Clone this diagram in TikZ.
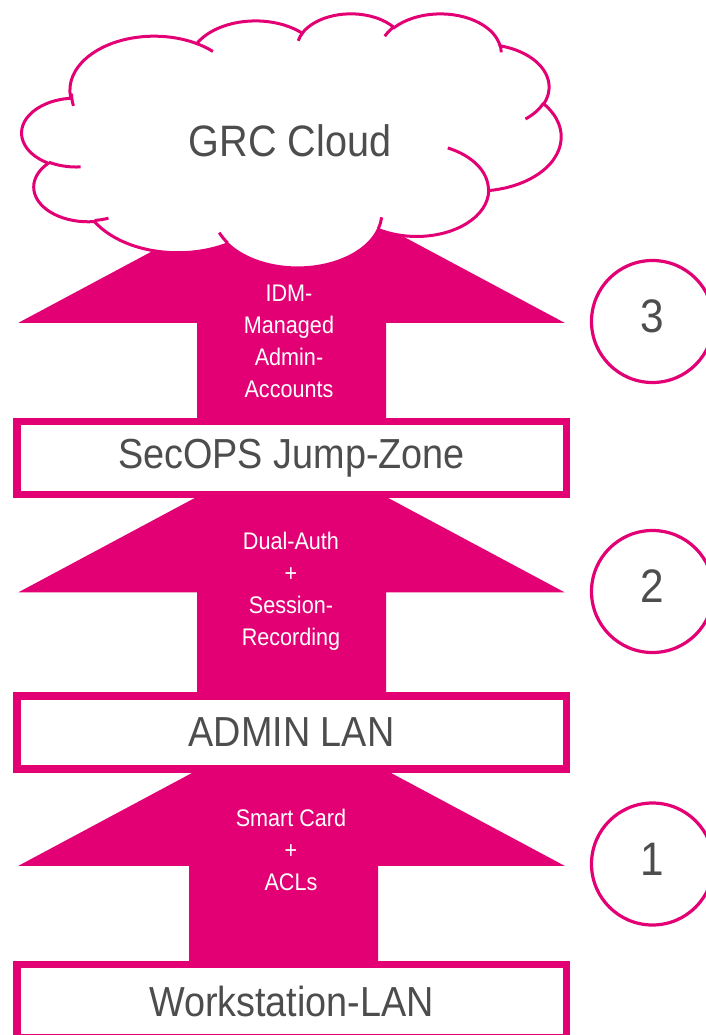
\documentclass[tikz,border=0pt]{standalone}
\usepackage{fontspec}
\setmainfont{Liberation Sans}[FakeStretch=0.9]
\usetikzlibrary{positioning, calc, backgrounds}
\definecolor{tkMagenta}{HTML}{E20074}
\definecolor{tkGrey}{HTML}{4D4D4D}

% one bulge of the cloud outline: x radius, y radius, start and sweep (visual angles)
\newcommand\cloudarc[4]{arc[x radius=#1, y radius=#2,
  start angle={atan2(#1*sin(#3),#2*cos(#3))},
  delta angle={mod(atan2(#1*sin(#3+#4),#2*cos(#3+#4))-atan2(#1*sin(#3),#2*cos(#3))+720,360)}]}

% block arrow rising out of a zone box: box, wing height, shaft shift
\newcommand\zonearrow[3]{%
  \fill[tkMagenta] ($(#1.center)+(#3-94.5,0)$) -- ($(#1.north)+(#3-94.5,-#2)$)
    -- ($(#1.north)+(-273,-#2)$) -- ($(#1.north)+(0,-#2-146)$)
    -- ($(#1.north)+(273,-#2)$) -- ($(#1.north)+(#3+94.5,-#2)$)
    -- ($(#1.center)+(#3+94.5,0)$) -- cycle;}

\begin{document}
\begin{tikzpicture}[x=0.5pt, y=-0.5pt,
  zone/.style={draw=tkMagenta, line width=3.75pt, fill=white, minimum width=274.75pt,
               minimum height=36.5pt, inner sep=0pt, text=tkGrey,
               font=\fontsize{21}{24}\selectfont},
  via/.style={align=center, text=white, inner sep=0pt, font=\fontsize{12}{16}\selectfont},
  stage/.style={circle, draw=tkMagenta, line width=1.6pt, fill=white, minimum size=61pt,
                inner sep=0pt, text depth=5pt, text=tkGrey, font=\fontsize{23.5}{26}\selectfont},
  puff/.style={draw=tkMagenta, line width=1.5pt}
]
\useasboundingbox (0,0) rectangle (706,1035);

\node[zone] (jump) at (291.5,458) {SecOPS Jump-Zone};
\node[zone, below=97pt of jump] (admin) {ADMIN LAN};
\node[zone, below=94pt of admin] (ws) {Workstation-LAN};

\begin{scope}[on background layer]
  \zonearrow{ws}{95}{-8}
  \zonearrow{admin}{100}{0}
  \zonearrow{jump}{95}{0}
\end{scope}

\node[via] (via1) at (291,850) {Smart Card\\+\\ACLs};
\node[via] (via2) at (291,591) {Dual-Auth\\+\\Session-\\Recording};
\node[via] (via3) at (289,341) {IDM-\\Managed\\Admin-\\Accounts};

\node[stage] (s3) at (652.5,321.5) {3};
\node[stage] (s2) at (652.5,591.5) {2};
\node[stage] (s1) at (652.5,864) {1};

% cloud
\begin{scope}[shift={(22,13)}, x=0.62384pt, y=-0.29398pt]
  \filldraw[puff, fill=white] (39.00,143.70)
    \cloudarc{67.53}{91.90}{-190.4875}{123.7805}
    \cloudarc{53.33}{72.67}{-144.1024}{89.9452}
    \cloudarc{43.65}{59.45}{-145.8079}{99.7230}
    \cloudarc{48.57}{65.95}{-130.9861}{117.2417}
    \cloudarc{53.33}{72.73}{-78.7089}{109.0269}
    \cloudarc{67.75}{92.20}{-46.2673}{130.2690}
    \cloudarc{57.85}{78.67}{0.6250}{114.0333}
    \cloudarc{67.52}{92.15}{22.4516}{115.1726}
    \cloudarc{77.20}{105.43}{66.2426}{75.7110}
    \cloudarc{43.60}{59.18}{-274.9421}{146.7356}
    \cloudarc{43.45}{59.45}{-246.8285}{152.5189} -- cycle;
  \draw[puff] (46.93,261.77) \cloudarc{43.45}{59.45}{86.7420}{26.4295}
    (69.28,348.99) \cloudarc{43.60}{59.18}{73.6105}{11.4475}
    (164.78,390.90) \cloudarc{67.52}{92.15}{137.6242}{14.0811}
    (288.27,347.51) \cloudarc{67.52}{92.15}{6.4533}{15.9984}
    (341.29,229.54) \cloudarc{57.85}{78.67}{-70.2924}{70.9174}
    (417.98,153.54) \cloudarc{53.33}{72.73}{30.3180}{27.7515}
    (383.24,54.26) \cloudarc{48.57}{65.95}{-13.7443}{14.8589}
    (290.78,39.52) \cloudarc{48.57}{65.95}{-149.1815}{18.1954}
    (221.41,47.20) \cloudarc{43.65}{59.45}{-163.4943}{17.8448}
    (140.00,51.92) \cloudarc{67.53}{91.90}{-66.7070}{12.3194}
    (41.27,157.89) \cloudarc{67.53}{91.90}{163.7727}{17.4271};
\end{scope}
\node[text=tkGrey, font=\fontsize{22}{24}\selectfont] (grc) at (290,141) {GRC Cloud};
\end{tikzpicture}
\end{document}
